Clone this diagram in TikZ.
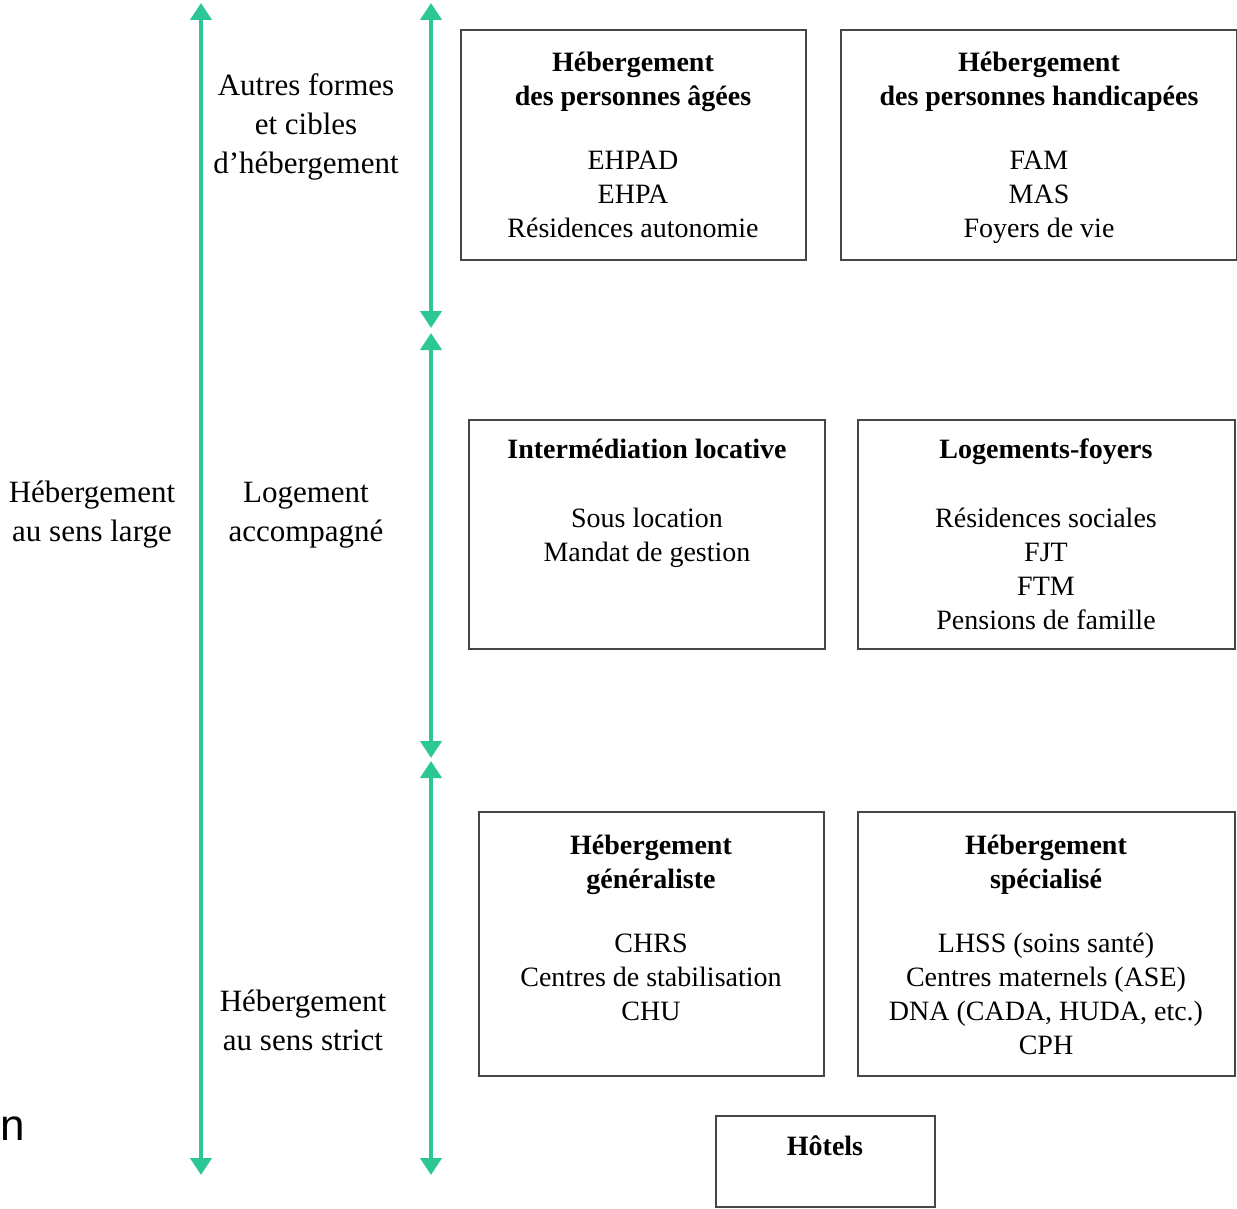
\documentclass[tikz,border=0pt]{standalone}
\usepackage{fontspec}
\setmainfont{Liberation Serif}
\newfontfamily\nsans{Liberation Sans}
\usetikzlibrary{arrows.meta}
\definecolor{teal1}{RGB}{44,199,150}
\definecolor{boxgray}{RGB}{70,70,70}
\tikzset{
  axis/.style={draw=teal1, line width=4pt, {Triangle[width=21pt,length=17pt]}-{Triangle[width=21pt,length=17pt]}},
  cbox/.style={draw=boxgray, line width=2pt},
  btxt/.style={align=center, inner sep=0pt, font=\fontsize{28}{34}\selectfont},
  ltxt/.style={align=center, inner sep=0pt, font=\fontsize{31}{39}\selectfont},
}
\begin{document}
\begin{tikzpicture}[x=1pt,y=-1pt]
\useasboundingbox (0,0) rectangle (1237,1209);
% axes
\coordinate (La) at (201,3);
\coordinate (Lb) at (201,1175);
\coordinate (R1a) at (431,3);
\coordinate (R1b) at (431,328);
\coordinate (R2a) at (431,333);
\coordinate (R2b) at (431,758);
\coordinate (R3a) at (431,761);
\coordinate (R3b) at (431,1175);
\draw[axis] (La) -- (Lb);
\draw[axis] (R1a) -- (R1b);
\draw[axis] (R2a) -- (R2b);
\draw[axis] (R3a) -- (R3b);
% left labels
\node[ltxt] (lAutres) at (306,127) {Autres formes\\et cibles\\d’hébergement};
\node[ltxt] (lLog) at (306,515) {Logement\\accompagné};
\node[ltxt] (lStrict) at (303,1020) {Hébergement\\au sens strict};
\node[ltxt] (lLarge) at (92,515) {Hébergement\\au sens large};
% boxes
\draw[cbox] (461,30) rectangle (806,260);
\draw[cbox] (841,30) rectangle (1237,260);
\draw[cbox] (469,420) rectangle (825,649);
\draw[cbox] (858,420) rectangle (1235,649);
\draw[cbox] (479,812) rectangle (824,1076);
\draw[cbox] (858,812) rectangle (1235,1076);
\draw[cbox] (716,1116) rectangle (935,1207);
% box texts
\node[btxt] (tAgees) at (633,145) {\textbf{Hébergement}\\\textbf{des personnes âgées}\\[30pt]EHPAD\\EHPA\\Résidences autonomie};
\node[btxt] (tHand) at (1039,148) {\textbf{Hébergement}\\\textbf{des personnes handicapées}\\[30pt]FAM\\MAS\\Foyers de vie};
\node[btxt] (tInter) at (647,503) {\textbf{Intermédiation locative}\\[35pt]Sous location\\Mandat de gestion};
\node[btxt] (tFoyers) at (1046,534) {\textbf{Logements-foyers}\\[35pt]Résidences sociales\\FJT\\FTM\\Pensions de famille};
\node[btxt] (tGen) at (651,928) {\textbf{Hébergement}\\\textbf{généraliste}\\[30pt]CHRS\\Centres de stabilisation\\CHU};
\node[btxt] (tSpec) at (1046,945) {\textbf{Hébergement}\\\textbf{spécialisé}\\[30pt]LHSS (soins santé)\\Centres maternels (ASE)\\DNA (CADA, HUDA, etc.)\\CPH};
\node[btxt] (tHotel) at (825,1146) {\textbf{Hôtels}};
% stray glyph
\node[anchor=base west, inner sep=0pt, font=\nsans\fontsize{44}{50}\selectfont] (nStray) at (0,1140) {n};
\end{tikzpicture}
\end{document}
